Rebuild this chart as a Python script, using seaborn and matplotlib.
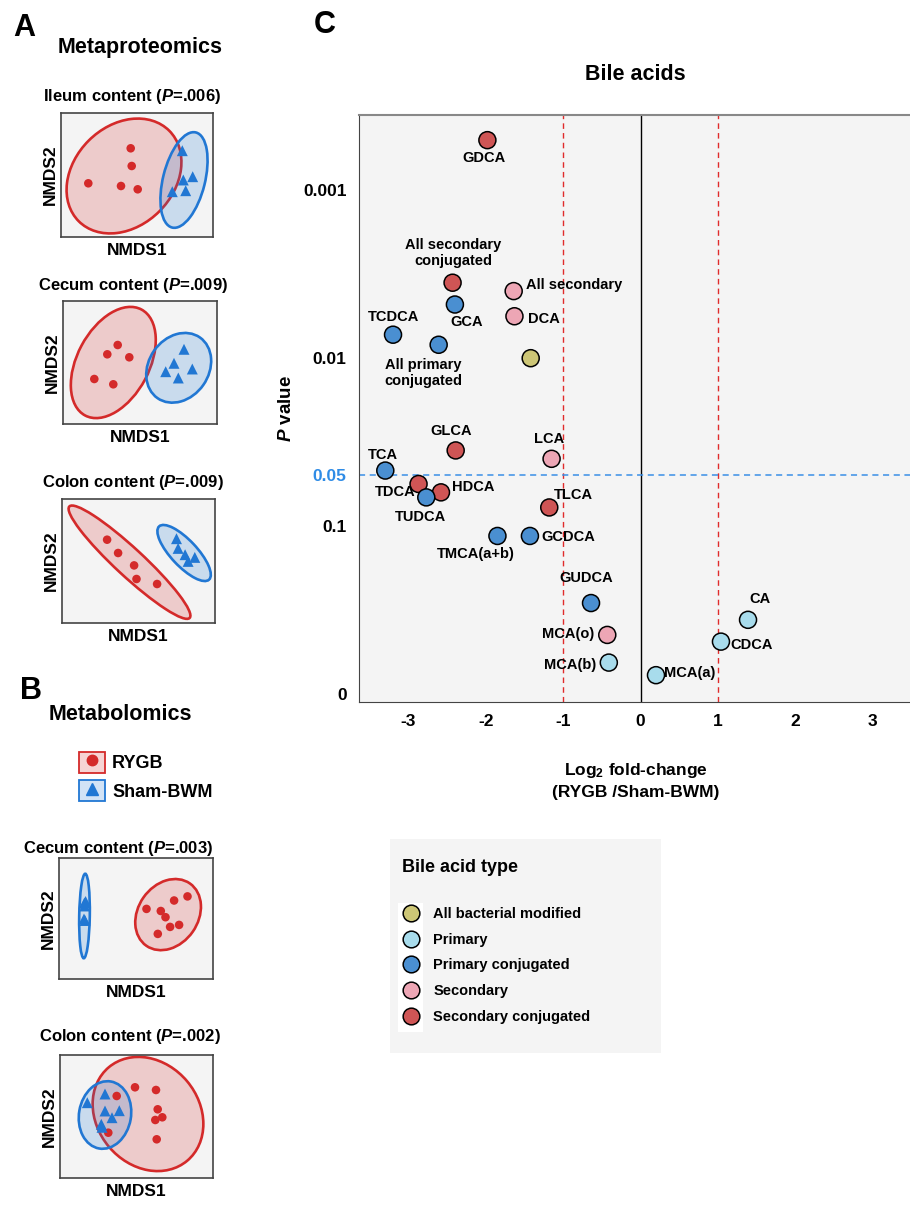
import numpy as np
import pandas as pd
import matplotlib
matplotlib.use('Agg')
import matplotlib.pyplot as plt
import seaborn as sns
from matplotlib.patches import Ellipse, Rectangle, Patch
from matplotlib.lines import Line2D
from matplotlib.colors import to_rgba

# ---------------- data: panel C (bile acid volcano) ----------------
bile_acids = ['GDCA', 'All secondary\nconjugated', 'GCA', 'All secondary', 'DCA', 'TCDCA',
              'All primary\nconjugated', 'All bacterial modified', 'GLCA', 'LCA', 'TCA', 'TDCA',
              'HDCA', 'TUDCA', 'TLCA', 'TMCA(a+b)', 'GCDCA', 'GUDCA', 'CA', 'MCA(o)', 'CDCA',
              'MCA(b)', 'MCA(a)']
log2_fc = [-1.98, -2.43, -2.40, -1.64, -1.63, -3.20, -2.61, -1.42, -2.39, -1.15, -3.30, -2.87,
           -2.58, -2.77, -1.18, -1.85, -1.43, -0.64, 1.39, -0.43, 1.04, -0.41, 0.20]
neg_log10_p = [3.30, 2.45, 2.32, 2.40, 2.25, 2.14, 2.08, 2.00, 1.45, 1.40, 1.33, 1.25,
               1.20, 1.17, 1.11, 0.94, 0.94, 0.54, 0.44, 0.35, 0.31, 0.185, 0.11]
acid_type = ['Secondary conjugated', 'Secondary conjugated', 'Primary conjugated', 'Secondary',
             'Secondary', 'Primary conjugated', 'Primary conjugated', 'All bacterial modified',
             'Secondary conjugated', 'Secondary', 'Primary conjugated', 'Secondary conjugated',
             'Secondary conjugated', 'Primary conjugated', 'Secondary conjugated',
             'Primary conjugated', 'Primary conjugated', 'Primary conjugated', 'Primary',
             'Secondary', 'Primary', 'Primary', 'Primary']
type_order = ['All bacterial modified', 'Primary', 'Primary conjugated', 'Secondary',
              'Secondary conjugated']
type_colors = ['#cdc676', '#a8dcec', '#4a8fd1', '#eda6b5', '#cf5555']
ytick_vals = [0, 1, 2, 3]
ytick_labels = ['0', '0.1', '0.01', '0.001']
p_cut = 0.05

# ---------------- data: NMDS panels (A, B) ----------------
ileum_rygb = [(-0.063, 0.267), (-0.053, 0.09), (-0.487, -0.083), (-0.16, -0.11), (0.007, -0.143)]
ileum_sham = [(0.453, 0.243), (0.463, -0.05), (0.557, -0.017), (0.353, -0.167), (0.487, -0.157)]
cecum_rygb = [(-0.223, 0.175), (-0.327, 0.082), (-0.107, 0.052), (-0.457, -0.165), (-0.267, -0.218)]
cecum_sham = [(0.44, 0.132), (0.34, -0.008), (0.523, -0.065), (0.257, -0.092), (0.383, -0.155)]
colon_rygb = [(-0.314, 0.213), (-0.204, 0.08), (-0.044, -0.044), (-0.02, -0.18), (0.186, -0.23)]
colon_sham = [(0.38, 0.223), (0.396, 0.126), (0.466, 0.063), (0.563, 0.036), (0.496, -0.004)]
mb_cecum_rygb = [(0.105, 0.096), (0.248, 0.075), (0.295, 0.013), (0.381, 0.18), (0.515, 0.221),
                 (0.341, -0.084), (0.431, -0.064), (0.218, -0.154)]
mb_cecum_sham = [(-0.504, 0.17), (-0.516, 0.155), (-0.52, -0.005), (-0.51, -0.02), (-0.513, 0.125)]
mb_colon_rygb = [(-0.015, 0.292), (0.195, 0.265), (-0.198, 0.205), (0.212, 0.072), (0.188, -0.035),
                 (0.258, -0.008), (-0.282, -0.162), (0.202, -0.228)]
mb_colon_sham = [(-0.492, 0.138), (-0.315, 0.225), (-0.315, 0.055), (-0.172, 0.058),
                 (-0.245, -0.012), (-0.352, -0.078), (-0.345, -0.108)]

# ellipses: centre x, centre y, width, height, angle
ileum_ell = [(-0.13, -0.01, 1.28, 1.0, 45), (0.47, -0.05, 0.98, 0.42, 76)]
cecum_ell = [(-0.267, 0.0, 1.2, 0.72, 62), (0.387, -0.053, 0.74, 0.6, 55)]
colon_ell = [(-0.09, -0.012, 1.64, 0.28, -42.8), (0.456, 0.08, 0.73, 0.26, -46.8)]
mb_cecum_ell = [(0.321, 0.039, 0.76, 0.6, 55), (-0.515, 0.025, 0.845, 0.106, 89)]
mb_colon_ell = [(0.115, 0.025, 1.22, 1.02, -50), (-0.315, 0.015, 0.68, 0.52, 80)]

# ---------------- style ----------------
sns.set_style('white')
plt.rcParams['font.family'] = ['Liberation Sans', 'DejaVu Sans']
plt.rcParams['font.weight'] = 'bold'
plt.rcParams['axes.labelweight'] = 'bold'
plt.rcParams['text.color'] = 'black'
plt.rcParams['axes.labelcolor'] = 'black'
plt.rcParams['xtick.color'] = 'black'
plt.rcParams['ytick.color'] = 'black'
plt.rcParams['axes.unicode_minus'] = False
plt.rcParams['mathtext.fontset'] = 'custom'
plt.rcParams['mathtext.rm'] = 'Liberation Sans:bold'
plt.rcParams['mathtext.it'] = 'Liberation Sans:italic:bold'
plt.rcParams['mathtext.bf'] = 'Liberation Sans:bold'

RED = '#d42a2a'
BLUE = '#2177d3'
PANEL_BG = '#f4f4f4'

W, H = 910, 1205
fig = plt.figure(figsize=(W / 100, H / 100), dpi=100)


def px_rect(l, t, r, b):
    return [l / W, 1 - b / H, (r - l) / W, (b - t) / H]


def fig_txt(x, y, s, **kw):
    fig.text(x / W, 1 - y / H, s, ha=kw.pop('ha', 'center'), va=kw.pop('va', 'center'), **kw)


def nmds_panel(box, title, title_xy, rygb, sham, ells):
    ax = fig.add_axes(px_rect(*box))
    w = box[2] - box[0]
    h = box[3] - box[1]
    ax.set_facecolor(PANEL_BG)
    for (cx, cy, ew, eh, ang), col in zip(ells, [RED, BLUE]):
        ax.add_patch(Ellipse((cx, cy), ew, eh, angle=ang, facecolor=to_rgba(col, 0.2),
                             edgecolor=col, lw=1.9, zorder=2))
    r = pd.DataFrame(rygb, columns=['NMDS1', 'NMDS2'])
    s = pd.DataFrame(sham, columns=['NMDS1', 'NMDS2'])
    sns.scatterplot(data=r, x='NMDS1', y='NMDS2', color=RED, marker='o', s=38,
                    edgecolor='none', ax=ax, zorder=3)
    sns.scatterplot(data=s, x='NMDS1', y='NMDS2', color=BLUE, marker='^', s=62,
                    edgecolor='none', ax=ax, zorder=3)
    ax.set_xlim(-w / 200, w / 200)
    ax.set_ylim(-h / 200, h / 200)
    ax.set_xticks([])
    ax.set_yticks([])
    ax.set_xlabel('NMDS1', fontsize=12.5, labelpad=4)
    ax.set_ylabel('NMDS2', fontsize=12.5, labelpad=2)
    for sp in ax.spines.values():
        sp.set_color('#444444')
        sp.set_linewidth(1.2)
    fig_txt(title_xy[0], title_xy[1], title, fontsize=12, fontweight='bold')
    return ax


# ---------------- panel A ----------------
fig_txt(24, 28, 'A', fontsize=22, fontweight='bold')
fig_txt(140, 48, 'Metaproteomics', fontsize=15.5, fontweight='bold')
nmds_panel((61, 113, 213, 237), r'Ileum content ($\it{P}$=.006)', (132, 97),
           ileum_rygb, ileum_sham, ileum_ell)
nmds_panel((63, 301, 217, 424), r'Cecum content ($\it{P}$=.009)', (133, 285),
           cecum_rygb, cecum_sham, cecum_ell)
nmds_panel((62, 499, 215, 623), r'Colon content ($\it{P}$=.009)', (133, 483),
           colon_rygb, colon_sham, colon_ell)

# ---------------- panel B ----------------
fig_txt(31, 691, 'B', fontsize=22, fontweight='bold')
fig_txt(120, 715, 'Metabolomics', fontsize=15.5, fontweight='bold')
grp_handles = [
    (Patch(facecolor=to_rgba(RED, 0.2), edgecolor=RED, lw=1.3),
     Line2D([], [], marker='o', color=RED, ms=7.5, ls='')),
    (Patch(facecolor=to_rgba(BLUE, 0.2), edgecolor=BLUE, lw=1.3),
     Line2D([], [], marker='^', color=BLUE, ms=9, ls='')),
]
fig.legend(grp_handles, ['RYGB', 'Sham-BWM'], loc='upper left',
           bbox_to_anchor=(79 / W, 1 - 752 / H), frameon=False, borderpad=0,
           borderaxespad=0, fontsize=13, handlelength=1.44, handleheight=1.39,
           handletextpad=0.4, labelspacing=0.42)
nmds_panel((59, 858, 213, 979), r'Cecum content ($\it{P}$=.003)', (118, 849),
           mb_cecum_rygb, mb_cecum_sham, mb_cecum_ell)
nmds_panel((60, 1055, 213, 1178), r'Colon content ($\it{P}$=.002)', (130, 1037),
           mb_colon_rygb, mb_colon_sham, mb_colon_ell)

# ---------------- panel C ----------------
fig_txt(325, 25, 'C', fontsize=22, fontweight='bold')
df = pd.DataFrame({'name': bile_acids, 'log2_fc': log2_fc,
                   'neg_log10_p': neg_log10_p, 'type': acid_type})
axc = fig.add_axes(px_rect(359, 115, 912, 702))
axc.set_facecolor(PANEL_BG)
axc.axvline(0, color='black', lw=1, zorder=1)
for xv in (-1, 1):
    axc.axvline(xv, color='#e02b2b', lw=1, ls=(0, (4, 3)), zorder=1)
axc.axhline(-np.log10(p_cut), color='#3a8fe6', lw=1.1, ls=(0, (4, 3)), zorder=1)
sns.scatterplot(data=df, x='log2_fc', y='neg_log10_p', hue='type', hue_order=type_order,
                palette=type_colors, s=150, edgecolor='black', linewidth=1.1,
                legend=False, ax=axc, zorder=3)

# label offsets in pixels (dx, dy, ha)
label_pos = {
    'GDCA': (-3, -17.5, 'center'), 'All secondary\nconjugated': (1, 30, 'center'),
    'GCA': (12, -17, 'center'), 'All secondary': (12.5, 6, 'left'), 'DCA': (13.5, -3, 'left'),
    'TCDCA': (0.5, 17.5, 'center'), 'All primary\nconjugated': (-54, -28, 'left'),
    'GLCA': (-4, 19.5, 'center'), 'LCA': (-2, 19.5, 'center'), 'TCA': (-2.5, 16, 'center'),
    'TDCA': (-23.5, -8, 'center'), 'HDCA': (11.5, 5.5, 'left'), 'TUDCA': (-5.5, -19.5, 'center'),
    'TLCA': (24, 12.5, 'center'), 'TMCA(a+b)': (-22, -18.5, 'center'), 'GCDCA': (11.5, -1, 'left'),
    'GUDCA': (-5, 25, 'center'), 'CA': (11.5, 20.5, 'center'), 'MCA(o)': (-13, 0.5, 'right'),
    'CDCA': (9, -3, 'left'), 'MCA(b)': (-12.5, -2, 'right'), 'MCA(a)': (8, 2, 'left'),
}
for name, xv, yv in zip(bile_acids, log2_fc, neg_log10_p):
    if name not in label_pos:
        continue
    dx, dy, ha = label_pos[name]
    axc.annotate(name, (xv, yv), xytext=(dx, dy), textcoords='offset pixels',
                 ha=ha, va='center', multialignment=ha,
                 fontsize=10.5, fontweight='bold', zorder=4)

axc.set_xlim(-3.64, 3.51)
axc.set_ylim(-0.05, 3.45)
axc.set_xticks([-3, -2, -1, 0, 1, 2, 3])
axc.set_yticks(ytick_vals + [-np.log10(p_cut)])
axc.set_yticklabels(ytick_labels + ['0.05'])
axc.tick_params(axis='both', labelsize=12.5, length=5, width=1, color='#444444', pad=4,
                direction='out')
for lab in axc.get_xticklabels() + axc.get_yticklabels():
    lab.set_fontweight('bold')
cut_tick = axc.yaxis.get_major_ticks()[-1]
cut_tick.tick1line.set_visible(False)
cut_tick.label1.set_color('#2f8ce6')
axc.set_xlabel('Log$_2$ fold-change\n(RYGB /Sham-BWM)', fontsize=12.5, labelpad=23,
               linespacing=1.35)
axc.set_ylabel(r'$\it{P}$ value', fontsize=13.5, labelpad=6)
axc.spines['right'].set_visible(False)
axc.spines['top'].set_color('#888888')
axc.spines['top'].set_linewidth(1.5)
axc.spines['left'].set_color('#444444')
axc.spines['bottom'].set_color('#444444')
axc.set_title('Bile acids', fontsize=15.5, fontweight='bold', pad=25)

# legend for bile acid type
fig.patches.append(Rectangle((390 / W, 1 - 1053 / H), 271 / W, 214 / H, transform=fig.transFigure,
                             facecolor=PANEL_BG, edgecolor='none', zorder=0))
fig.patches.append(Rectangle((398 / W, 1 - 1032 / H), 25 / W, 129 / H, transform=fig.transFigure,
                             facecolor='white', edgecolor='none', zorder=0))
fig_txt(402, 867, 'Bile acid type', fontsize=13, fontweight='bold', ha='left')
type_handles = [Line2D([], [], marker='o', ls='', ms=12, markerfacecolor=c,
                       markeredgecolor='black', markeredgewidth=1.1) for c in type_colors]
fig.legend(type_handles, type_order, loc='upper left', bbox_to_anchor=(403.7 / W, 1 - 907 / H),
           frameon=False, borderpad=0, borderaxespad=0, fontsize=10.5, handlelength=1.0,
           handletextpad=1.03, labelspacing=0.8)

fig.savefig('out.png', dpi=100)
